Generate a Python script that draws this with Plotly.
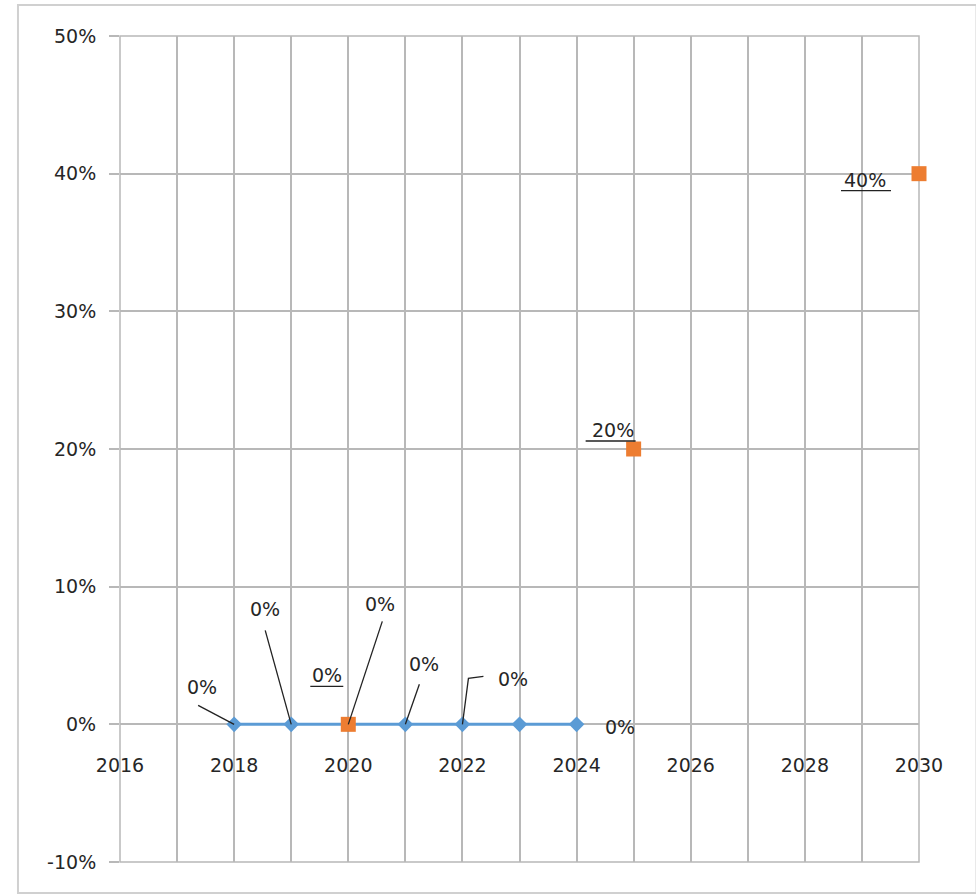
import plotly.graph_objects as go

# ---- data ----
blue_years = [2018, 2019, 2020, 2021, 2022, 2023, 2024]
blue_values = [0.0, 0.0, 0.0, 0.0, 0.0, 0.0, 0.0]
orange_years = [2020, 2025, 2030]
orange_values = [0.0, 0.20, 0.40]
x_tick_years = list(range(2016, 2031))
x_tick_labels = [str(y) if y % 2 == 0 else "" for y in x_tick_years]
y_tick_values = [-0.1, 0.0, 0.1, 0.2, 0.3, 0.4, 0.5]
y_tick_labels = ["-10%", "0%", "10%", "20%", "30%", "40%", "50%"]

BLUE = "#5b9bd5"
ORANGE = "#ed7d31"
GRID = "#b8b8b8"
TXT = "#262626"
FONT = "DejaVu Sans"
FS = 19

fig = go.Figure()
fig.add_trace(go.Scatter(
    x=blue_years, y=blue_values, mode="lines+markers",
    line=dict(color=BLUE, width=3),
    marker=dict(symbol="diamond", size=12, color=BLUE),
    showlegend=False, hoverinfo="skip", cliponaxis=False))
fig.add_trace(go.Scatter(
    x=orange_years, y=orange_values, mode="markers",
    marker=dict(symbol="square", size=15, color=ORANGE),
    showlegend=False, hoverinfo="skip", cliponaxis=False))

# label layout: text offset (dx, dy) in px; leader path as pixel points relative to the data point
blue_label_layout = {
    0: dict(dx=-32, dy=37, path=[(0, 0), (-36, 19)]),
    1: dict(dx=-26, dy=115, path=[(0, 0), (-26, 94)]),
    2: dict(dx=32, dy=120, path=[(0, 0), (34, 103)]),
    3: dict(dx=19, dy=60, path=[(0, 0), (14, 40)]),
    4: dict(dx=51, dy=45, path=[(0, 0), (6, 46), (21, 48)]),
    6: dict(dx=43, dy=-3, path=None),
}
orange_label_layout = {
    0: dict(dx=-21, dy=49, uline=(-38, -5)),
    1: dict(dx=-21, dy=19, uline=(-48, 2)),
    2: dict(dx=-54, dy=-6, uline=(-78, -28)),
}

annotations = []
shapes = []

# plot-area frame (edge gridlines)
shapes.append(dict(type="rect", xref="x domain", yref="y domain",
                   x0=0, x1=1, y0=0, y1=1,
                   line=dict(color=GRID, width=1.5), layer="below"))


def add_label(x, y, val, dx, dy):
    annotations.append(dict(
        x=x, y=y, xref="x", yref="y", text=f"{val:.0%}", showarrow=False,
        xshift=dx, yshift=dy, font=dict(family=FONT, size=FS, color=TXT)))


for i, lay in blue_label_layout.items():
    x, y = blue_years[i], blue_values[i]
    add_label(x, y, y, lay["dx"], lay["dy"])
    if lay["path"]:
        p = "M " + " L ".join(f"{px},{py}" for px, py in lay["path"])
        shapes.append(dict(type="path", xref="x", yref="y", xsizemode="pixel",
                           ysizemode="pixel", xanchor=x, yanchor=y, path=p,
                           line=dict(color="#222", width=1.3)))

for i, lay in orange_label_layout.items():
    x, y = orange_years[i], orange_values[i]
    add_label(x, y, y, lay["dx"], lay["dy"])
    x0, x1 = lay["uline"]
    shapes.append(dict(type="line", xref="x", yref="y", xsizemode="pixel",
                       ysizemode="pixel", xanchor=x, yanchor=y,
                       x0=x0, x1=x1, y0=lay["dy"] - 11, y1=lay["dy"] - 11,
                       line=dict(color="#222", width=1.3)))

# outer chart frame
shapes.append(dict(type="rect", xref="paper", yref="paper",
                   x0=-0.1277, x1=1.072, y0=-0.0375, y1=1.0375,
                   line=dict(color="#d0d0d0", width=2), layer="below"))

fig.update_layout(
    width=976, height=895,
    margin=dict(l=120, r=57, t=36, b=33),
    paper_bgcolor="white", plot_bgcolor="white",
    font=dict(family=FONT, size=FS, color=TXT),
    annotations=annotations, shapes=shapes,
    xaxis=dict(range=[2016, 2030], tickvals=x_tick_years, ticktext=x_tick_labels,
               showgrid=True, gridcolor=GRID, gridwidth=1.5,
               anchor="free", position=1 / 6, showline=False,
               ticks="", ticklabelstandoff=28, zeroline=False,
               tickfont=dict(family=FONT, size=FS, color=TXT)),
    yaxis=dict(range=[-0.1, 0.5], tickvals=y_tick_values, ticktext=y_tick_labels,
               showgrid=True, gridcolor=GRID, gridwidth=1.5, zeroline=False,
               ticks="outside", ticklen=10, tickcolor=GRID, tickwidth=1.5,
               ticklabelstandoff=9,
               tickfont=dict(family=FONT, size=FS, color=TXT)),
)

fig.write_html("out.html")
